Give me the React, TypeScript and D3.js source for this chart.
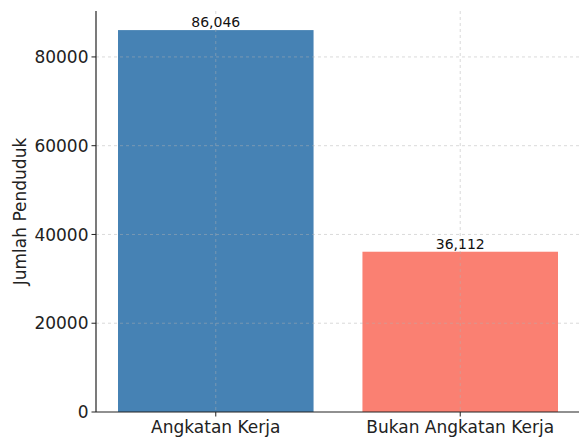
import React from "react";
import * as d3 from "d3";

const categories = ["Angkatan Kerja", "Bukan Angkatan Kerja"];
const values = [86046, 36112];
const colors = ["#4682B4", "#FA8072"];
const yTicks = [0, 20000, 40000, 60000, 80000];
const yLabel = "Jumlah Penduduk";

const W = 579;
const H = 437;
const left = 96;
const right = 580;
const top = 11;
const bottom = 412;

export default function App() {
  const y = d3.scaleLinear().domain([0, 86046 * 1.05]).range([bottom, top]);
  const x = d3.scaleLinear().domain([-0.49, 1.49]).range([left, right]);
  const bw = x(0.4) - x(0);
  const font = "DejaVu Sans, sans-serif";
  const fmt = d3.format(",");
  return (
    <svg width={W} height={H} style={{ position: "absolute", left: 0, top: 0, background: "#fff" }} fontFamily={font}>
      {values.map((v, i) => (
        <rect key={i} x={x(i) - bw} y={y(v)} width={bw * 2} height={bottom - y(v)} fill={colors[i]} />
      ))}
      {yTicks.slice(1).map((t) => (
        <line key={t} x1={left} x2={right} y1={y(t)} y2={y(t)} stroke="#b0b0b0" strokeOpacity={0.6} strokeDasharray="3,3" strokeWidth={0.8} />
      ))}
      {categories.map((c, i) => (
        <line key={c} x1={x(i)} x2={x(i)} y1={top} y2={bottom} stroke="#b0b0b0" strokeOpacity={0.6} strokeDasharray="3,3" strokeWidth={0.8} />
      ))}
      {values.map((v, i) => (
        <text key={i} x={x(i)} y={y(v) - 3} textAnchor="middle" fontSize={14} fill="#111">{fmt(v)}</text>
      ))}
      <line x1={left} x2={left} y1={top} y2={bottom} stroke="#222" strokeWidth={1.2} />
      <line x1={left} x2={right} y1={bottom} y2={bottom} stroke="#222" strokeWidth={1.2} />
      {yTicks.map((t) => (
        <g key={t}>
          <line x1={left - 4.5} x2={left} y1={y(t)} y2={y(t)} stroke="#222" strokeWidth={1} />
          <text x={left - 7.5} y={y(t)} dy="0.36em" textAnchor="end" fontSize={17} fill="#222">{t}</text>
        </g>
      ))}
      {categories.map((c, i) => (
        <g key={c}>
          <line x1={x(i)} x2={x(i)} y1={bottom} y2={bottom + 4.5} stroke="#222" strokeWidth={1} />
          <text x={x(i)} y={bottom + 20.5} textAnchor="middle" fontSize={17} fill="#222">{c}</text>
        </g>
      ))}
      <text transform={`translate(26,${(top + bottom) / 2}) rotate(-90)`} textAnchor="middle" fontSize={17} fill="#222">{yLabel}</text>
    </svg>
  );
}
